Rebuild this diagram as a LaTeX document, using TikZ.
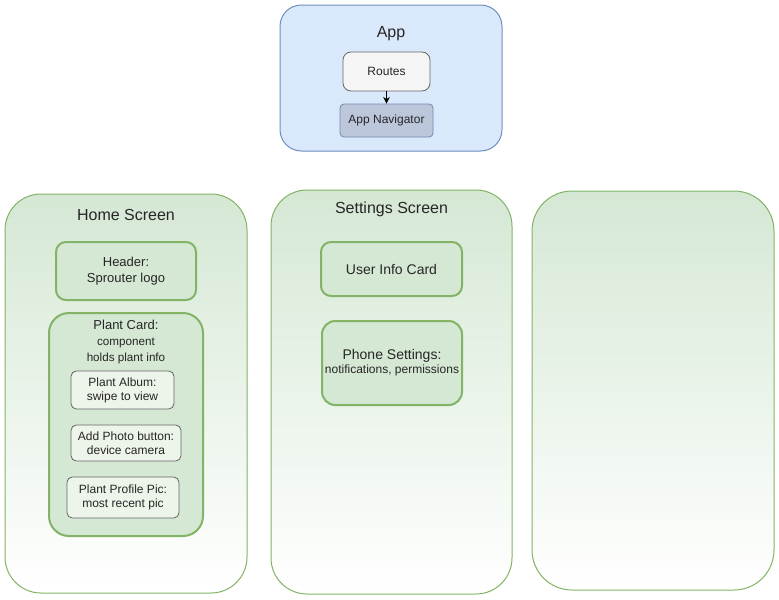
\documentclass[tikz,border=0pt]{standalone}
\usepackage{fontspec}
\setmainfont{Liberation Sans}
\usetikzlibrary{arrows.meta}
\definecolor{bluefill}{HTML}{DAE8FC}
\definecolor{blueline}{HTML}{6C8EBF}
\definecolor{navfill}{HTML}{BCC7DC}
\definecolor{navline}{HTML}{7487B0}
\definecolor{greyfill}{HTML}{F5F5F5}
\definecolor{greyline}{HTML}{666666}
\definecolor{greenfill}{HTML}{D5E8D4}
\definecolor{greenline}{HTML}{82B366}
\definecolor{palefill}{HTML}{EDF4EA}

\tikzstyle{every node}=[align=center, inner sep=2pt, text=black!85, font={\fontsize{9.75}{12}\selectfont}]
\tikzstyle{title}=[font={\fontsize{12}{14}\selectfont}]
\tikzstyle{small}=[font={\fontsize{9}{10.5}\selectfont}]
\tikzstyle{appbox}=[draw=blueline, fill=bluefill, line width=0.75pt, rounded corners=16pt]
\tikzstyle{screen}=[draw=greenline, top color=greenfill, bottom color=white, line width=0.75pt, rounded corners=27pt, minimum width=181.5pt, minimum height=299.25pt]
\tikzstyle{part}=[draw=greenline, fill=greenfill, line width=1.5pt]
\tikzstyle{item}=[small, draw=greyline, fill=palefill, line width=0.6pt, rounded corners=4pt]

\begin{document}
\begin{tikzpicture}[x=0.75pt, y=-0.75pt]
    \useasboundingbox (0,0) rectangle (779,600);

    \node [appbox, minimum width=166.5pt, minimum height=109.5pt] (app) at (391,78) {};
    \node [title] (apptitle) at (391,34) {App};
    \node [small, draw=greyline, fill=greyfill, line width=0.6pt, rounded corners=6pt,
        minimum width=65.25pt, minimum height=29.25pt] (routes) at (386.5,71.5) {Routes};
    \node [small, draw=navline, fill=navfill, line width=0.6pt, rounded corners=3pt,
        minimum width=69.75pt, minimum height=24.75pt] (nav) at (386.5,120.5) {App Navigator};
    \draw [-{Stealth[length=5pt, width=5pt]}, line width=0.75pt] (routes) -- (nav);

    \node [screen] (home) at (126,393.5) {};
    \node [title] (hometitle) at (126,214.5) {Home Screen};
    \node [part, rounded corners=7.5pt, minimum width=105pt, minimum height=43.5pt] (header) at (126,271)
        {Header:\\Sprouter logo};
    \node [part, rounded corners=15pt, minimum width=115.5pt, minimum height=167.25pt] (card) at (126,424.5) {};
    \node (cardtext) at (126,342)
        {Plant Card:\\{\fontsize{8.75}{11}\selectfont component}\\{\fontsize{8.75}{11}\selectfont holds plant info}};
    \node [item, minimum width=77.25pt, minimum height=28.5pt] (album) at (122.5,390) {Plant Album:\\swipe to view};
    \node [item, minimum width=82.5pt, minimum height=27pt] (photo) at (126,443) {Add Photo button:\\device camera};
    \node [item, minimum width=84pt, minimum height=30.75pt] (profile) at (123,497.5) {Plant Profile Pic:\\most recent pic};

    \node [screen, minimum width=180.75pt, minimum height=303pt] (settings) at (391.5,392) {};
    \node [title] (settingstitle) at (391.5,209.5) {Settings Screen};
    \node [part, rounded corners=7.5pt, minimum width=105.75pt, minimum height=40.5pt,
        font={\fontsize{10.5}{12}\selectfont}] (userinfo) at (391.5,269) {User Info Card};
    \node [part, rounded corners=10pt, minimum width=105pt, minimum height=63pt,
        font={\fontsize{10.5}{10.5}\selectfont}] (phone) at (392,363)
        {Phone Settings:\\{\fontsize{9}{10.5}\selectfont notifications, permissions}};

    \node [screen, rounded corners=30pt] (extra) at (653,390.5) {};
\end{tikzpicture}
\end{document}
